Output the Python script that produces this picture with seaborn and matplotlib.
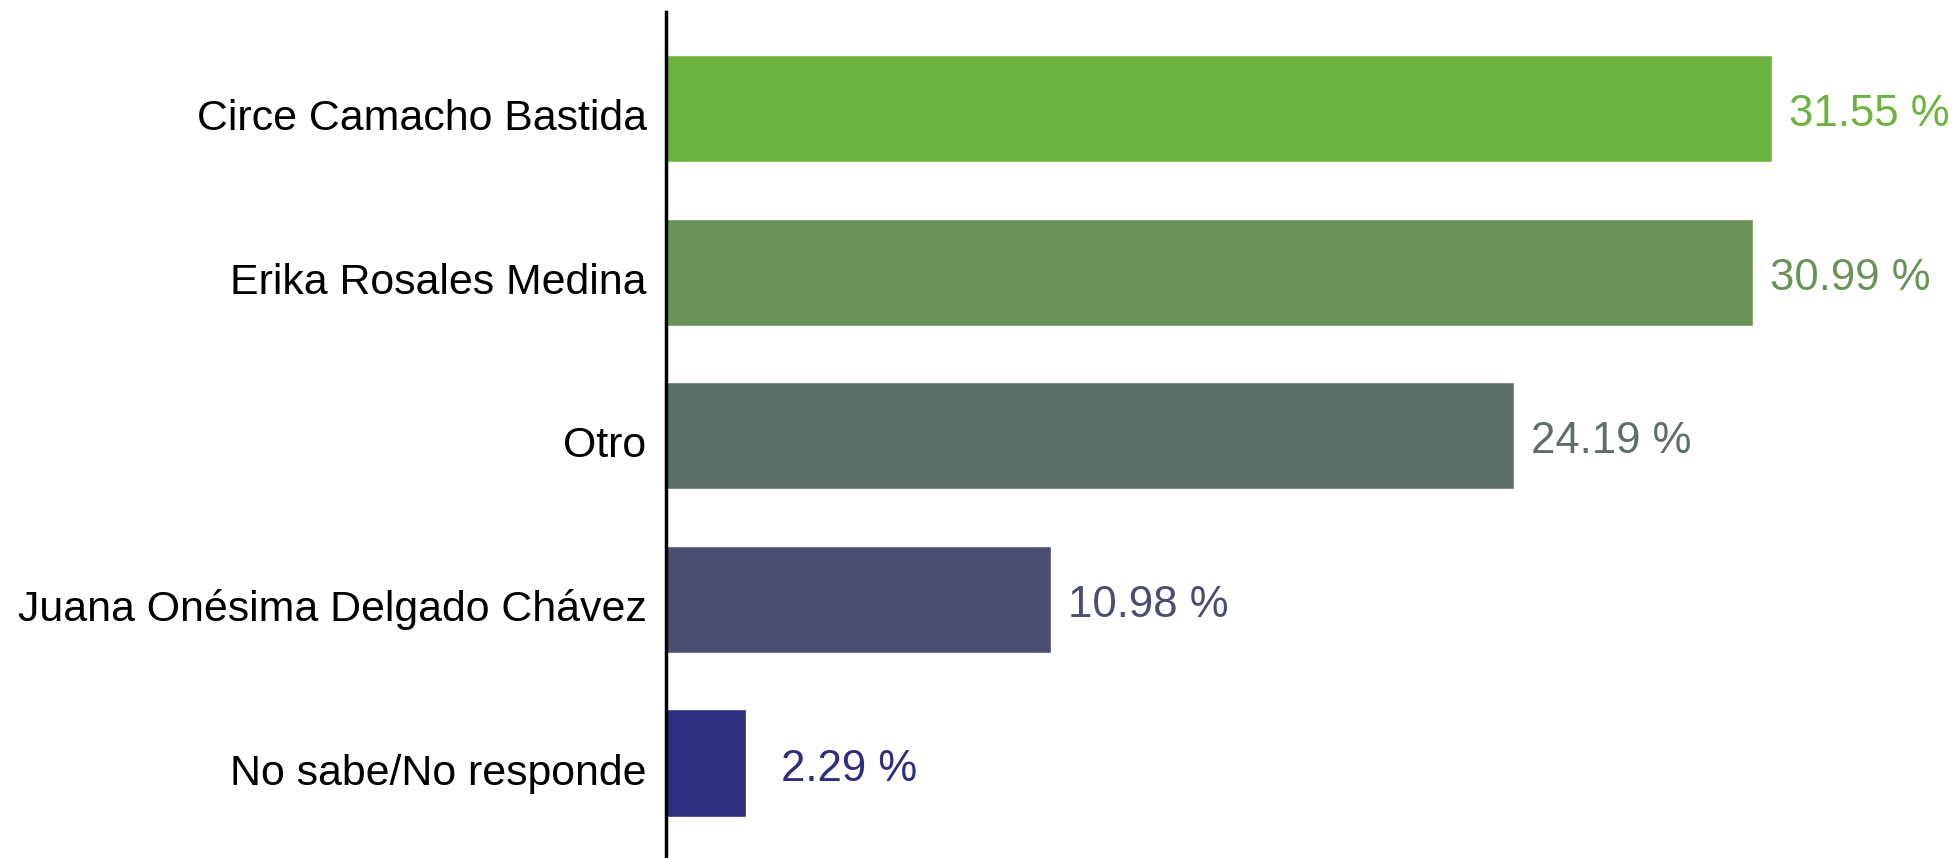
import matplotlib
matplotlib.use("Agg")
import matplotlib.pyplot as plt
import matplotlib.transforms as mtransforms
import seaborn as sns
import pandas as pd

categories = ["Circe Camacho Bastida", "Erika Rosales Medina", "Otro",
              "Juana Onésima Delgado Chávez", "No sabe/No responde"]
values = [31.55, 30.99, 24.19, 10.98, 2.29]
colors = ["#6DB33F", "#6A9259", "#5E6F68", "#4C4D72", "#2E2E7E"]
value_labels = ["31.55 %", "30.99 %", "24.19 %", "10.98 %", "2.29 %"]

sns.set_theme(style="white")
plt.rcParams["font.family"] = ["Liberation Sans", "DejaVu Sans"]

df = pd.DataFrame({"cat": categories, "val": values})

fig = plt.figure(figsize=(19.6, 8.58), dpi=100)
W, H = 1960, 858
ax = fig.add_axes([666 / W, 0, (W - 666) / W, (858 - 12) / H])

sns.barplot(data=df, y="cat", x="val", hue="cat", palette=colors,
            order=categories, hue_order=categories, legend=False,
            width=0.655, ax=ax, saturation=1)

ax.set_xlim(0, 1294 / 35.06)
ax.set_ylim(4.58, -0.59)
ax.set_xlabel("")
ax.set_ylabel("")
ax.set_xticks([])
for s in ["top", "right", "bottom"]:
    ax.spines[s].set_visible(False)
ax.spines["left"].set_color("black")
ax.spines["left"].set_linewidth(2.5)
ax.tick_params(axis="y", length=0, pad=14, labelsize=30.9, labelcolor="black")

shift = mtransforms.ScaledTranslation(0, -6 / 100, fig.dpi_scale_trans)
for lbl in ax.get_yticklabels():
    lbl.set_transform(lbl.get_transform() + shift)

for i, (v, lab, c) in enumerate(zip(values, value_labels, colors)):
    ax.annotate(lab, xy=(max(v, 2.8), i), xytext=(17, -6),
                textcoords="offset pixels", va="center", ha="left",
                fontsize=31.5, color=c)

fig.savefig("out.png", dpi=100)
